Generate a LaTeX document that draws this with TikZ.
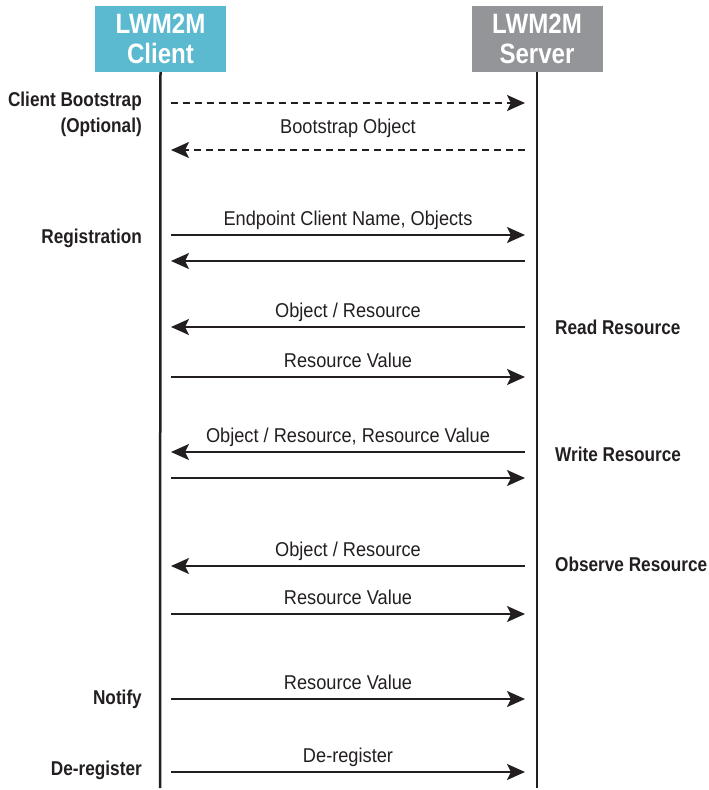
\documentclass[tikz,border=0pt]{standalone}
\usepackage{fontspec}
\setmainfont[FakeStretch=0.91,BoldFeatures={FakeStretch=0.86}]{Liberation Sans}
\usetikzlibrary{arrows.meta}
\definecolor{clientblue}{RGB}{91,185,208}
\definecolor{servergray}{RGB}{147,149,152}
\definecolor{ink}{RGB}{35,31,32}

\begin{document}
\begin{tikzpicture}[x=1pt, y=-1pt,
    head/.style={fill=#1, text=white, font=\fontsize{28}{30}\selectfont\bfseries,
      align=center, minimum width=131pt, minimum height=66pt, inner sep=0pt},
    life/.style={line width=2.5pt, ink},
    msg/.style={line width=2pt, ink, -{Stealth[length=18pt,width=16pt,inset=4pt]}},
    opt/.style={msg, dash pattern=on 7pt off 5pt},
    lbl/.style={font=\fontsize{20}{22}\selectfont, text=ink, text height=14pt,
      text depth=0pt, inner sep=0pt, above=9pt},
    side/.style={font=\fontsize{20}{26}\selectfont\bfseries, text=ink, align=right, inner sep=0pt}]
    \useasboundingbox (0,0) rectangle (709,790);

    % the two parties
    \node[head=clientblue] (client) at (160.5,39) {LWM2M\\Client};
    \node[head=servergray] (server) at (537,39) {LWM2M\\Server};
    \coordinate (clientend) at (160,788);
    \coordinate (serverend) at (537,788);
    \draw[life] (client.south) -- (clientend);
    \draw[life] (server.south) -- (serverend);

    % message rows
    \foreach \n/\y in {1/103,2/150,3/235,4/261,5/327,6/377,7/452,8/478,9/566,10/614,11/699,12/772}
      {\coordinate (c\n) at (171,\y); \coordinate (s\n) at (525,\y);}

    \draw[opt] (c1) -- (s1);
    \draw[opt] (s2) -- node[lbl, yshift=7pt] {Bootstrap Object} (c2);

    \draw[msg] (c3) -- node[lbl] {Endpoint Client Name, Objects} (s3);
    \draw[msg] (s4) -- (c4);

    \draw[msg] (s5) -- node[lbl] {Object / Resource} (c5);
    \draw[msg] (c6) -- node[lbl] {Resource Value} (s6);

    \draw[msg] (s7) -- node[lbl] {Object / Resource, Resource Value} (c7);
    \draw[msg] (c8) -- (s8);

    \draw[msg] (s9) -- node[lbl] {Object / Resource} (c9);
    \draw[msg] (c10) -- node[lbl] {Resource Value} (s10);

    \draw[msg] (c11) -- node[lbl] {Resource Value} (s11);
    \draw[msg] (c12) -- node[lbl] {De-register} (s12);

    % operation names
    \node[side, anchor=east] (boot) at (142,114) {Client Bootstrap\\(Optional)};
    \node[side, anchor=east] (reg) at (142,238) {Registration};
    \node[side, anchor=east] (notify) at (142,699) {Notify};
    \node[side, anchor=east] (dereg) at (142,770) {De-register};
    \node[side, anchor=west] (read) at (555,327) {Read Resource};
    \node[side, anchor=west] (write) at (555,454) {Write Resource};
    \node[side, anchor=west] (observe) at (555,564) {Observe Resource};
\end{tikzpicture}
\end{document}
